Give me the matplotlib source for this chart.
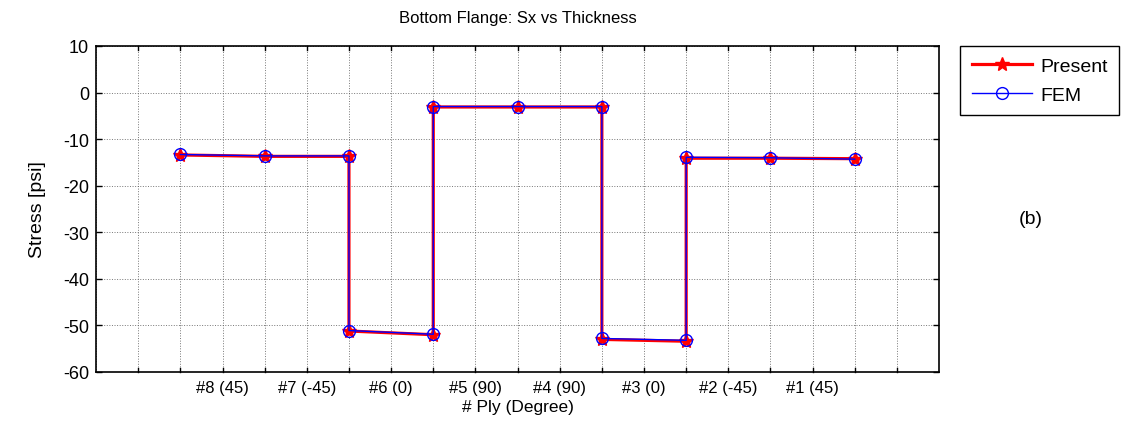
import numpy as np
import matplotlib.pyplot as plt

plt.rcParams['font.family'] = ['Liberation Sans', 'DejaVu Sans']
plt.rcParams['axes.unicode_minus'] = False

# ply labels (bottom flange, top to bottom), centred on each ply
ply_labels = ['#8 (45)', '#7 (-45)', '#6 (0)', '#5 (90)', '#4 (90)', '#3 (0)', '#2 (-45)', '#1 (45)']
ply_centers = [3, 5, 7, 9, 11, 13, 15, 17]

# through-thickness positions of the evaluation points
pos = [2, 4, 6, 6, 8, 8, 10, 12, 12, 14, 14, 16, 18]
present = [-13.4, -13.7, -13.7, -51.2, -52.0, -3.1, -3.1, -3.1, -53.0, -53.4, -14.1, -14.1, -14.2]
fem = [-13.3, -13.6, -13.6, -51.1, -51.9, -3.0, -3.0, -3.0, -52.8, -53.2, -13.9, -14.0, -14.3]

fig = plt.figure(figsize=(11.26, 4.31), dpi=100)
ax = fig.add_axes([0.0853, 0.1346, 0.7487, 0.7564])

ax.plot(pos, present, '-', color='red', lw=2.3, marker='*', ms=10, mec='red', mfc='red', label='Present')
ax.plot(pos, fem, '-', color='blue', lw=1.0, marker='o', ms=8.5, mec='blue', mfc='none', label='FEM')

ax.set_xlim(0, 20)
ax.set_ylim(-60, 10)
ticks = list(range(21))
labels = ['' for t in ticks]
for c, l in zip(ply_centers, ply_labels):
    labels[c] = l
ax.set_xticks(ticks)
ax.set_xticklabels(labels, fontsize=12)
ax.set_yticks(np.arange(-60, 11, 10))
ax.tick_params(axis='y', labelsize=13)
ax.tick_params(direction='in', top=True, right=True, length=4, width=1, pad=5)
ax.tick_params(axis='x', length=0, pad=6)
for t in ticks[1:-1]:
    ax.plot([t, t], [-60, -59.2], color='black', lw=1, clip_on=False)
    ax.plot([t, t], [10, 9.2], color='black', lw=1, clip_on=False)
ax.grid(True, color='#555555', linestyle=':', linewidth=0.7, alpha=0.8)
for s in ax.spines.values():
    s.set_linewidth(1.2)

ax.set_title('Bottom Flange: Sx vs Thickness', fontsize=12, pad=17)
ax.set_xlabel('# Ply (Degree)', fontsize=12.5, labelpad=3)
ax.set_ylabel('Stress [psi]', fontsize=14, labelpad=12)

leg = fig.legend(loc='upper left', bbox_to_anchor=(0.853, 0.891), fontsize=14,
                 frameon=True, fancybox=False, framealpha=1, edgecolor='black',
                 borderaxespad=0, handlelength=3.1, handletextpad=0.4,
                 borderpad=0.6, labelspacing=0.55)
leg.get_frame().set_linewidth(1.0)

fig.text(0.915, 0.49, '(b)', fontsize=14, ha='center', va='center')

fig.savefig('out.png', dpi=100)
